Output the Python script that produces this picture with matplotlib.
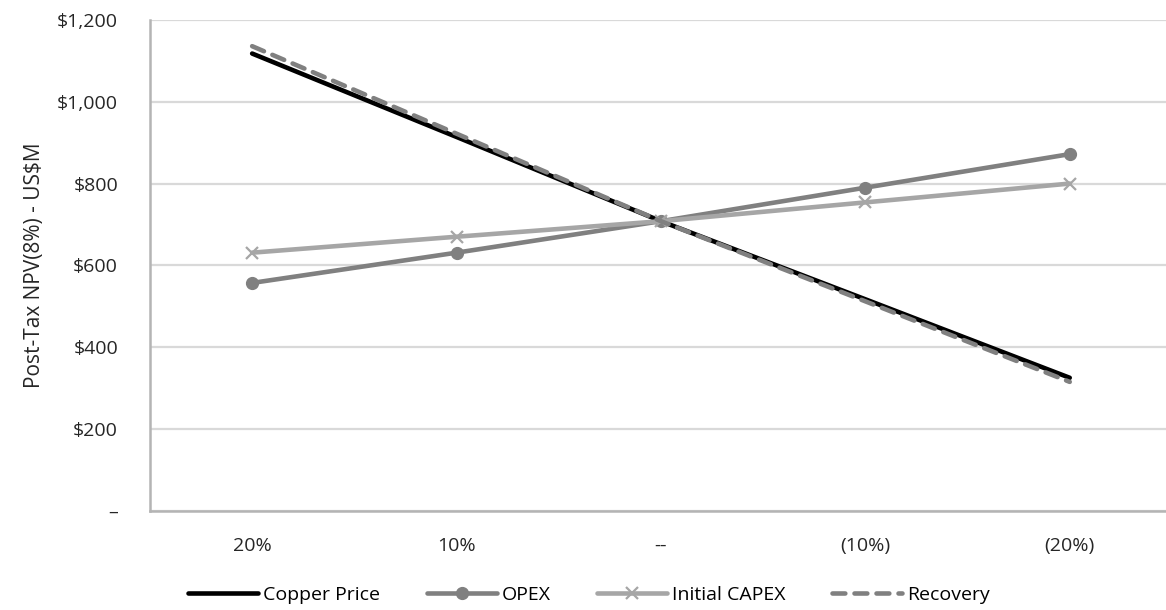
import matplotlib.pyplot as plt
from matplotlib.ticker import FuncFormatter, MultipleLocator

plt.rcParams["font.family"] = ["Open Sans", "DejaVu Sans"]

# sensitivity cases (change applied to each input)
CASES = ["20%", "10%", "--", "(10%)", "(20%)"]

copper_price = [1118, 914, 708, 517, 325]
opex = [557, 631, 708, 790, 872]
initial_capex = [631, 670, 708, 754, 800]
recovery = [1136, 922, 708, 512, 315]


def money(v, pos):
    if v == 0:
        return "\u2013"
    return f"${v:,.0f}"


fig = plt.figure(figsize=(11.66, 6.10), dpi=100)
ax = fig.add_axes([0.1286, 0.1628, 0.8765, 0.8044])

x = list(range(len(CASES)))

ax.plot(x, copper_price, color="black", linewidth=3.3,
        solid_capstyle="round", label="Copper Price", zorder=3)
ax.plot(x, opex, color="#808080", linewidth=3.3, marker="o",
        markersize=8.5, solid_capstyle="round", label="OPEX", zorder=3)
ax.plot(x, initial_capex, color="#a6a6a6", linewidth=3.3, marker="x",
        markersize=9, markeredgewidth=1.6, solid_capstyle="round",
        label="Initial CAPEX", zorder=3)
ax.plot(x, recovery, color="#808080", linewidth=3.3,
        linestyle=(0, (2.8, 2.0)), dash_capstyle="round",
        label="Recovery", zorder=4)

ax.set_xlim(-0.5, len(CASES) - 0.5)
ax.set_ylim(0, 1200)
ax.yaxis.set_major_locator(MultipleLocator(200))
ax.yaxis.set_major_formatter(FuncFormatter(money))
ax.set_xticks(x)
ax.set_xticklabels(CASES)

ax.grid(axis="y", color="#d9d9d9", linewidth=1.6)
ax.set_axisbelow(True)
for side in ("top", "right"):
    ax.spines[side].set_visible(False)
for side in ("left", "bottom"):
    ax.spines[side].set_color("#b4b4b4")
    ax.spines[side].set_linewidth(1.8)

ax.tick_params(axis="both", length=0, labelsize=14, colors="#262626")
ax.tick_params(axis="y", pad=23)
ax.tick_params(axis="x", pad=19)

ax.set_ylabel("Post-Tax NPV(8%) - US$M", fontsize=15, color="#262626",
              labelpad=9)

fig.legend(loc="lower center", bbox_to_anchor=(0.505, -0.019), ncol=4,
           frameon=False, fontsize=14, handlelength=3.6,
           columnspacing=2.4, handletextpad=0.25)

fig.savefig("out.png", dpi=100)
